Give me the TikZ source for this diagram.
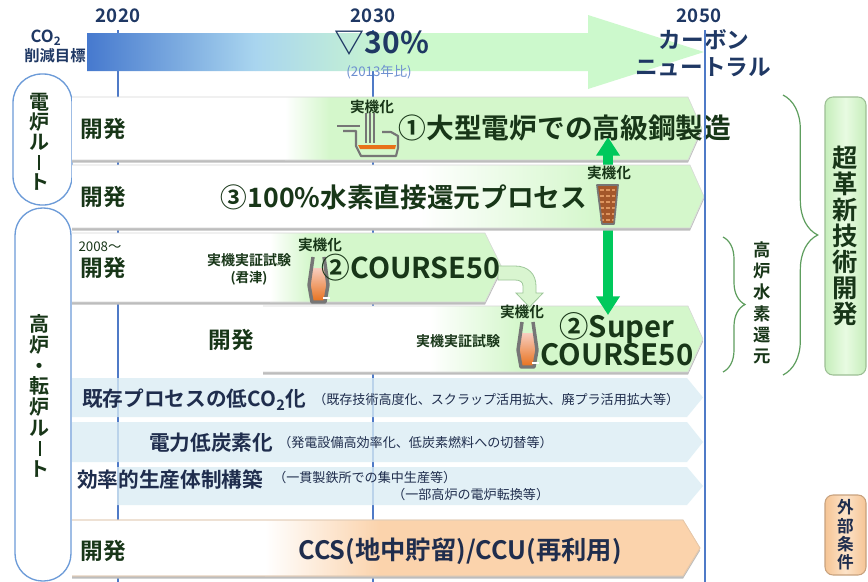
\documentclass[tikz,border=0pt]{standalone}
\usepackage{fontspec}
\usepackage{graphicx}
\setmainfont{Noto Sans CJK JP}[BoldFont={* Bold}]
\usetikzlibrary{arrows.meta,decorations.pathreplacing}

\definecolor{navy}{HTML}{1F3864}
\definecolor{inkgreen}{HTML}{183618}
\definecolor{inkblue}{HTML}{1F2D4D}
\definecolor{mildblue}{HTML}{6D8FD0}
\definecolor{gridblue}{HTML}{4F7AC7}
\definecolor{rowgreen}{HTML}{D4F7CB}
\definecolor{rowblue}{HTML}{DAEDF4}
\definecolor{rowpeach}{HTML}{FBD3AC}
\definecolor{peachedge}{HTML}{EBC6A2}
\definecolor{arrowgreen}{HTML}{00C95C}
\definecolor{bracegreen}{HTML}{5E9E5E}
\definecolor{routeblue}{HTML}{6C9BD8}
\definecolor{co2start}{HTML}{4679CE}
\definecolor{co2mid}{HTML}{A9D5EF}
\definecolor{co2end}{HTML}{CCF9CC}
\definecolor{melt}{HTML}{E8701A}
\definecolor{meltlight}{HTML}{F7CDBF}
\definecolor{wall}{HTML}{767676}
\definecolor{brick}{HTML}{A4572A}
\definecolor{brickline}{HTML}{DE955F}
\definecolor{techside}{HTML}{C6EEBB}
\definecolor{techmid}{HTML}{E8FBE2}
\definecolor{techedge}{HTML}{9DBF95}
\definecolor{extside}{HTML}{F5C495}
\definecolor{extmid}{HTML}{FDE3C8}
\definecolor{extedge}{HTML}{C8A27E}
\definecolor{bendfill}{HTML}{D9F5D0}
\definecolor{bendedge}{HTML}{9EC79A}

\newcommand{\fsz}[2]{\fontsize{#1pt}{#2pt}\selectfont\lineskiplimit=-100pt}
% long vowel mark set upright in vertical text
\newcommand{\vbar}{\rule[-0.02em]{0.12em}{0.78em}}
% chevron: left, corner, tip, top, bottom
\newcommand{\chevpath}[5]{(#1,#4) -- (#2,#4) -- (#3,{(#4+#5)/2}) -- (#2,#5) -- (#1,#5) -- cycle}
\newcommand{\chevedge}[5]{(#1,#4) -- (#2,#4) -- (#3,{(#4+#5)/2}) -- (#2,#5) -- (#1,#5)}
% chevron fading from white into a colour between #6 and #7
\newcommand{\fadedrow}[8]{%
  \fill[black!26,yshift=-2pt] \chevpath{#1}{#2}{#3}{#4}{#5};
  \begin{scope}
    \clip \chevpath{#1}{#2}{#3}{#4}{#5};
    \fill[white] (#1,#4) rectangle (#3,#5);
    \shade[left color=white,right color=#8] (#6,#4) rectangle (#7,#5);
    \fill[#8] (#7,#4) rectangle (#3,#5);
  \end{scope}
  \draw[black!16,line width=0.4pt] \chevedge{#1}{#2}{#3}{#4}{#5};
}
% blast furnace symbol, placed by the middle of its mouth
\newcommand{\blastfurnace}[2]{%
  \begin{scope}[shift={(#1,#2)}]
    \shade[top color=meltlight,middle color=melt,bottom color=melt]
      (-6.4,11) -- (-9.5,28) -- (-6.5,45) -- (6.5,45) -- (9.5,28) -- (6.4,11) -- cycle;
    \draw[wall,line width=2.6pt,line join=round]
      (-5.5,0) -- (-9.5,28) -- (-6.5,45) -- (6.5,45) -- (9.5,28) -- (5.5,0);
    \draw[white,line width=1.1pt] (4.5,41) -- (11,41);
  \end{scope}}

\begin{document}
\begin{tikzpicture}[x=0.75pt,y=-0.75pt,
  grid/.style={gridblue,line width=0.9pt},
  year/.style={inner sep=0pt,text=navy,font=\bfseries\fsz{14}{14}},
  head/.style={inner sep=0pt,text=navy,font=\bfseries\fsz{#1}{#1}},
  dev/.style={inner sep=0pt,text=inkgreen,font=\bfseries\fsz{17}{17}},
  tag/.style={inner sep=0pt,text=inkgreen,font=\bfseries\fsz{#1}{#1}},
  theme/.style={inner sep=0pt,text=inkgreen,font=\bfseries\fsz{#1}{#1}},
  measure/.style={inner sep=0pt,text=inkblue,anchor=west,font=\bfseries\fsz{15.5}{15.5}},
  note/.style={inner sep=0pt,text=inkblue,anchor=west,font=\fsz{9.8}{9.8}},
  route/.style={inner sep=0pt,text=inkgreen,align=center,font=\bfseries\fsz{15}{#1}},
  vbrace/.style={bracegreen,line width=0.9pt,decorate,decoration={brace,amplitude=#1}},
  bar/.style={draw,rounded corners=6pt,line width=0.8pt,minimum width=30.75pt,inner sep=0pt,align=center}]

\useasboundingbox (0,0) rectangle (868,582);
\fill[white] (0,0) rectangle (868,582);

% year grid lines
\draw[grid] (118,30) -- (118,582);
\draw[grid] (373,30) -- (373,582);

% CO2 reduction target arrow
\begin{scope}
  \clip (87,33) -- (588,33) -- (588,15) -- (704,52) -- (588,89) -- (588,71) -- (87,71) -- cycle;
  \shade[left color=co2start,right color=co2mid] (87,10) rectangle (255,95);
  \shade[left color=co2mid,right color=co2end] (255,10) rectangle (400,95);
  \fill[co2end] (400,10) rectangle (710,95);
\end{scope}

\node[year] (y2020) at (118,16) {2020};
\node[year] (y2030) at (373,16) {2030};
\node[year] (y2050) at (699,16) {2050};
\node[head=12.5] (co2) at (46,38) {CO\textsubscript{2}};
\node[head=11.5] (goal) at (55,56) {削減目標};
\node[head=22.5] (cut) at (382,43) {▽30\%};
\node[inner sep=0pt,text=mildblue,font=\fsz{10}{10}] (basis) at (379,72) {(2013年比)};
\node[head=17] (cn1) at (704,40) {カーボン};
\node[head=17] (cn2) at (703,67) {ニュートラル};

% route capsules
\draw[routeblue,line width=1pt,fill=white,rounded corners=21.5pt] (13,74) rectangle (72,205);
\draw[routeblue,line width=1pt,fill=white,rounded corners=20.5pt] (15,208) rectangle (71,581);
\node[route=15] (eafroute) at (39,142) {電\\炉\\ル\\\vbar\\ト};
\node[route=15.5] (bfroute) at (40,396) {高\\炉\\・\\転\\炉\\ル\\\vbar\\ト};

% development rows
\fadedrow{263}{688}{703}{306}{372}{430}{520}{rowgreen}
\fadedrow{72}{485}{502}{233}{302}{270}{310}{rowgreen}
\fadedrow{72}{688}{702}{97}{160}{285}{330}{rowgreen}

% link between electric furnace and hydrogen blast furnace
\coordinate (linktop) at (608,137);
\coordinate (linkbot) at (608,315);
\draw[arrowgreen,line width=7.5pt,{Triangle[width=17pt,length=14pt]}-{Triangle[width=17pt,length=14pt]}] (linktop) -- (linkbot);

\fadedrow{72}{690}{704}{165}{228}{420}{600}{rowgreen}

% electric arc furnace symbol
\draw[wall,line width=1.6pt] (337,126) -- (360,126);
\draw[wall,line width=1.6pt,line join=round] (343,131) -- (356,131) -- (356,146) -- (361,156) -- (396,156) -- (398,148) -- (398,136) -- (391,132) -- (382,132);
\draw[wall,line width=1.2pt] (366,113) -- (366,143) (370,113) -- (370,143) (374,113) -- (374,143);
\fill[melt] (358,145) -- (396,145) -- (395,149) -- (360,149) -- cycle;

% shaft furnace symbol
\fill[brick] (597,185) -- (618,185) -- (614,224) -- (602,224) -- cycle;
\foreach \yy in {190,196,202,208,214,220}
  \draw[brickline,line width=0.9pt] (600,\yy) -- (604,\yy) (606,\yy) -- (610,\yy) (612,\yy) -- (615,\yy);
\draw[wall,line width=1.3pt,line join=round] (597,185) -- (618,185) -- (614,224) -- (602,224) -- cycle;

% blast furnace symbols
\blastfurnace{318.5}{257}
\blastfurnace{527.5}{322}

% COURSE50 carried over into Super COURSE50
\draw[bendedge,line width=0.6pt,fill=bendfill] (498,266) -- (515,266) .. controls (528,266) and (536,274) .. (536,286) -- (536,293) -- (543,293) -- (529.5,307) -- (516,293) -- (523,293) -- (523,286) .. controls (523,282) and (520,280) .. (515,280) -- (498,280) -- cycle;

% row texts
\node[dev] (dev1) at (103,129) {開発};
\node[tag=11] (eaftag) at (372,107) {実機化};
\node[theme=20.8] (theme1) at (565,128) {①大型電炉での高級鋼製造};

\node[dev] (dev2) at (103,197) {開発};
\node[theme=20] (theme3) at (404,197) {③100\%水素直接還元プロセス};
\node[tag=11] (shafttag) at (609,173) {実機化};

\node[inner sep=0pt,text=inkgreen,font=\fsz{10}{10}] (since) at (100,247) {2008〜};
\node[dev] (dev3) at (103,268) {開発};
\node[tag=10.5] (trial3) at (249,260) {実機実証試験};
\node[tag=10] (site3) at (249,278) {(君津)};
\node[tag=11] (bftag3) at (320,245) {実機化};
\node[theme=21.5] (theme2) at (411,268) {②COURSE50};

\node[dev] (dev4) at (231,340) {開発};
\node[tag=10.5] (trial4) at (458,341) {実機実証試験};
\node[tag=11] (bftag4) at (522,312) {実機化};
\node[inner sep=0pt,text=inkgreen,align=center,font=\bfseries\fsz{22}{21}] (theme2s) at (617,339) {②Super\\COURSE50};

% existing process measures
\begin{scope}[fill opacity=0.78]
  \fill[rowblue] \chevpath{72}{687}{703}{378}{417};
  \fill[rowblue] \chevpath{72}{687}{703}{422}{462};
  \fill[rowblue] \chevpath{117}{687}{703}{467}{505};
\end{scope}
\node[measure] (m1) at (82,400) {既存プロセスの低CO\textsubscript{2}化};
\node[note] (m1note) at (313,400) {（既存技術高度化、スクラップ活用拡大、廃プラ活用拡大等）};
\node[measure] (m2) at (149,443) {電力低炭素化};
\node[note] (m2note) at (278,443) {（発電設備高効率化、低炭素燃料への切替等）};
\node[measure] (m3) at (77,480) {効率的生産体制構築};
\node[note] (m3note1) at (273,478) {（一貫製鉄所での集中生産等）};
\node[note] (m3note2) at (392,495) {（一部高炉の電炉転換等）};

% carbon capture row
\fadedrow{72}{683}{700}{520}{576}{265}{380}{rowpeach}
\draw[peachedge,line width=0.6pt] \chevedge{72}{683}{700}{520}{576};
\node[dev] (dev8) at (103,551) {開発};
\node[inner sep=0pt,text=inkblue,font=\bfseries\fsz{19}{19}] (ccs) at (460,551) {CCS(地中貯留)/CCU(再利用)};

% grouping braces
\coordinate (b1top) at (783,95);
\coordinate (b1bot) at (783,375);
\coordinate (b2top) at (723,237);
\coordinate (b2bot) at (723,372);
\draw[vbrace=26pt] (b1top) -- (b1bot);
\draw[vbrace=16.5pt] (b2top) -- (b2bot);
\node[route=16,font=\bfseries\fsz{13}{16}] (h2bf) at (762,303) {高\\炉\\水\\素\\還\\元};

\node[bar,draw=techedge,left color=techside,right color=techside,middle color=techmid,
  minimum height=208.5pt,text=inkgreen,font=\bfseries\fsz{19}{19.5}] (ctech) at (845.5,236) {超\\革\\新\\技\\術\\開\\発};
\node[bar,draw=extedge,left color=extside,right color=extside,middle color=extmid,
  minimum height=60pt,text=inkblue,font=\bfseries\fsz{12.5}{13.7}] (ext) at (845.5,535) {外\\部\\条\\件};

% 2050 line
\draw[gridblue,line width=1.2pt] (705,30) -- (705,582);
\end{tikzpicture}
\end{document}
